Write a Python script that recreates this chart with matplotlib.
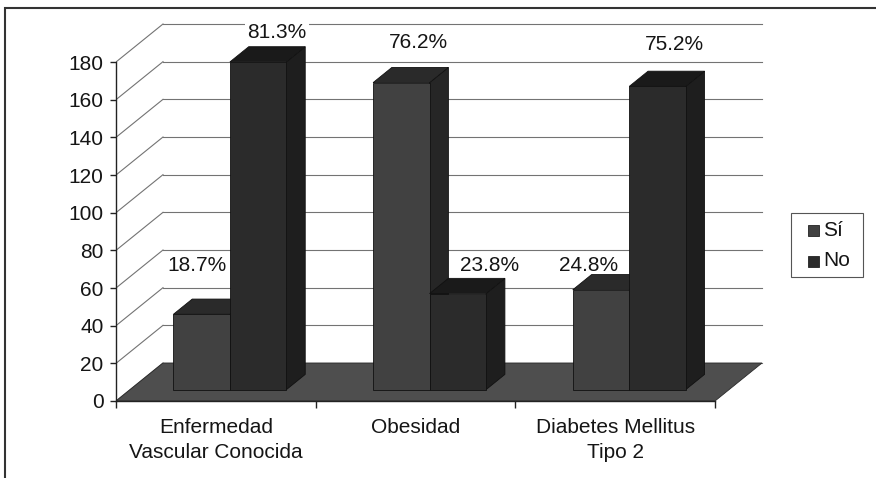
import matplotlib
matplotlib.use("Agg")
import matplotlib.pyplot as plt
from matplotlib.patches import Polygon, Rectangle

# ---- data ----
categories = ["Enfermedad\nVascular Conocida", "Obesidad", "Diabetes Mellitus\nTipo 2"]
series_names = ["Sí", "No"]
si_counts = [40, 163, 53]
no_counts = [174, 51, 161]
si_labels = ["18.7%", "76.2%", "24.8%"]
no_labels = ["81.3%", "23.8%", "75.2%"]
y_ticks = list(range(0, 181, 20))

# ---- layout (pixels) ----
W, H = 876, 478
X_CAT0, X_CAT3 = 116, 715          # front edge of the floor
Y_ZERO, Y_TOP = 401, 62            # value 0 and value 180 on the front plane
DEPTH_PX = (47, 38)                # depth offset of the back wall
AX_RIGHT, AX_TOP = 775, 16

px_per_cat = (X_CAT3 - X_CAT0) / 3
px_per_val = (Y_ZERO - Y_TOP) / 180
DX = DEPTH_PX[0] / px_per_cat
DY = DEPTH_PX[1] / px_per_val
BAR_W = 56.5 / px_per_cat
D0, D1 = 0.3, 0.7                  # bar depth span as a fraction of the floor depth

# label nudges in pixels, relative to the back edge of each bar top
si_nudge = [(-23, 34), (-2, 25), (-31, 9)]
no_nudge = [(0, 14), (13, 13), (-2, 27)]

colors = {
    "Sí": {"front": "#414141", "top": "#2a2a2a", "side": "#262626"},
    "No": {"front": "#2b2b2b", "top": "#1a1a1a", "side": "#1e1e1e"},
}
FLOOR = "#4e4e4e"
GRID = "#737373"
TEXT = "#151515"
FONT = "Liberation Sans"
FS = 15

fig = plt.figure(figsize=(W / 100, H / 100), dpi=100)
ax = fig.add_axes([X_CAT0 / W, (H - Y_ZERO) / H,
                   (AX_RIGHT - X_CAT0) / W, (Y_ZERO - AX_TOP) / H])
ax.set_xlim(0, (AX_RIGHT - X_CAT0) / px_per_cat)
ax.set_ylim(0, (Y_ZERO - AX_TOP) / px_per_val)
ax.patch.set_visible(False)

# back wall gridlines and side wall diagonals
for v in y_ticks:
    ax.plot([DX, 3 + DX], [v + DY, v + DY], color=GRID, lw=0.8, zorder=1)
    ax.plot([0, DX], [v, v + DY], color=GRID, lw=0.8, zorder=1)

# floor
ax.add_patch(Polygon([(0, 0), (3, 0), (3 + DX, DY), (DX, DY)], closed=True,
                     facecolor=FLOOR, edgecolor="#2a2a2a", lw=0.6, zorder=2))


def draw_bar(xl, value, style):
    yb = D0 * DY
    yt = yb + value
    ddx, ddy = (D1 - D0) * DX, (D1 - D0) * DY
    xr = xl + BAR_W
    ax.add_patch(Polygon([(xr, yb), (xr, yt), (xr + ddx, yt + ddy), (xr + ddx, yb + ddy)],
                         facecolor=style["side"], edgecolor="#111111", lw=0.6, zorder=3))
    ax.add_patch(Polygon([(xl, yt), (xr, yt), (xr + ddx, yt + ddy), (xl + ddx, yt + ddy)],
                         facecolor=style["top"], edgecolor="#111111", lw=0.6, zorder=3))
    ax.add_patch(Rectangle((xl, yb), BAR_W, value,
                           facecolor=style["front"], edgecolor="#111111", lw=0.6, zorder=3))
    return xl + BAR_W / 2 + ddx, yt + ddy


for i, cat in enumerate(categories):
    base = i + 0.5 - BAR_W + D0 * DX
    for s, (name, vals, labs, nudge) in enumerate(
            [("Sí", si_counts, si_labels, si_nudge), ("No", no_counts, no_labels, no_nudge)]):
        cx, cy = draw_bar(base + s * BAR_W, vals[i], colors[name])
        # labels sit above the gridlines but beneath the bars
        ax.annotate(labs[i], (cx, cy), xytext=nudge[i], textcoords="offset pixels",
                    ha="center", va="center", fontsize=FS, family=FONT,
                    color=TEXT, zorder=1.5, annotation_clip=False,
                    bbox=dict(boxstyle="square,pad=0.1", facecolor="white", edgecolor="none"))

# axes
for side in ("top", "right"):
    ax.spines[side].set_visible(False)
ax.spines["left"].set_bounds(0, 180)
ax.spines["bottom"].set_bounds(0, 3)
for side in ("left", "bottom"):
    ax.spines[side].set_color("#222222")
    ax.spines[side].set_linewidth(1.0)
    ax.spines[side].set_zorder(4)

ax.set_yticks(y_ticks)
ax.set_yticklabels([str(t) for t in y_ticks], fontsize=FS, family=FONT, color=TEXT)
ax.tick_params(axis="y", length=4, width=1, color="#222222", pad=5)
ax.set_xticks([0, 1, 2, 3])
ax.set_xticklabels([])
ax.tick_params(axis="x", which="major", length=5, width=1, color="#222222")
ax.set_xticks([0.5, 1.5, 2.5], minor=True)
ax.set_xticklabels(categories, minor=True, fontsize=FS, family=FONT, color=TEXT,
                   linespacing=1.43)
ax.tick_params(axis="x", which="minor", length=0, pad=12)

# legend box, drawn in figure pixels
def fx(px):
    return px / W


def fy(py):
    return 1 - py / H


fig.patches.append(Rectangle((fx(791), fy(277)), fx(863) - fx(791), fy(213) - fy(277),
                             transform=fig.transFigure, facecolor="white",
                             edgecolor="#555555", lw=0.8))
for name, yc in zip(series_names, (230, 261)):
    fig.patches.append(Rectangle((fx(808), fy(yc + 5.5)), fx(11), 11 / H,
                                 transform=fig.transFigure,
                                 facecolor=colors[name]["front"], edgecolor="#222222", lw=0.6))
    fig.text(fx(823), fy(yc), name, ha="left", va="center", fontsize=FS,
             family=FONT, color=TEXT)

# outer chart border
fig.patches.append(Rectangle((5 / W, -0.1), 2, (H - 8) / H + 0.1, transform=fig.transFigure,
                             fill=False, edgecolor="#333333", lw=1.5))

fig.savefig("out.png", dpi=100)
